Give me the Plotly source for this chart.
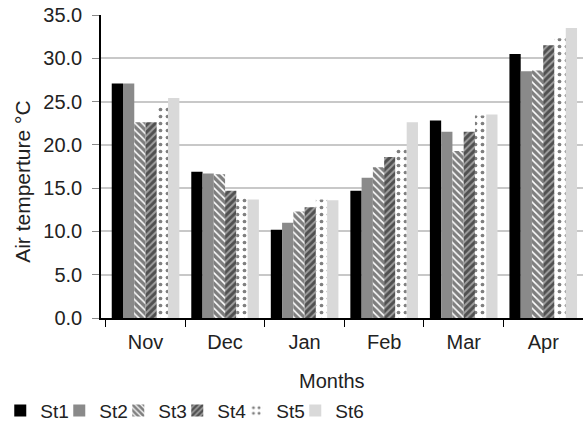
import plotly.graph_objects as go

# Monthly mean air temperature (°C) at six stations
months = ["Nov", "Dec", "Jan", "Feb", "Mar", "Apr"]
st1 = [27.1, 16.9, 10.2, 14.7, 22.8, 30.5]
st2 = [27.1, 16.7, 11.0, 16.2, 21.5, 28.5]
st3 = [22.6, 16.6, 12.3, 17.4, 19.3, 28.6]
st4 = [22.6, 14.7, 12.8, 18.6, 21.5, 31.5]
st5 = [24.6, 13.9, 13.7, 19.7, 23.4, 32.3]
st6 = [25.4, 13.7, 13.6, 22.6, 23.5, 33.5]

series = [
    ("St1", st1, dict(color="#000000")),
    ("St2", st2, dict(color="#8a8a8a")),
    ("St3", st3, dict(color="#ffffff",
                      pattern=dict(shape="\\", fgcolor="#000000", bgcolor="#ffffff",
                                   size=5, solidity=0.68))),
    ("St4", st4, dict(color="#ffffff",
                      pattern=dict(shape="/", fgcolor="#000000", bgcolor="#a0a0a0",
                                   size=5, solidity=0.6))),
    ("St5", st5, dict(color="#ffffff",
                      pattern=dict(shape=".", fgcolor="#000000", bgcolor="#ffffff",
                                   size=7, solidity=0.22))),
    ("St6", st6, dict(color="#d9d9d9")),
]

fig = go.Figure()
for name, vals, marker in series:
    fig.add_trace(go.Bar(x=months, y=vals, name=name,
                         marker=dict(line=dict(width=0), **marker)))

# blank spacer entry (a scatter, so it takes no bar slot) giving the compact
# legend row room for its last label
fig.add_trace(go.Scatter(x=[None], y=[None], name=" ", mode="markers",
                         showlegend=True,
                         marker=dict(color="rgba(0,0,0,0)", size=1,
                                     line=dict(width=0)),
                         hoverinfo="skip"))

family = "Liberation Sans, Arial, sans-serif"
ink = "#222222"
tick_font = dict(family=family, size=20, color=ink)

fig.update_layout(
    width=583, height=435,
    margin=dict(l=101, r=0, t=15, b=117),
    paper_bgcolor="white", plot_bgcolor="white",
    font=dict(family=family, size=19, color=ink),
    barmode="group", bargap=0.15, bargroupgap=0,
    showlegend=True,
    legend=dict(orientation="h", x=-0.209, xanchor="left", y=-0.243, yanchor="top",
                font=dict(family=family, size=19, color=ink),
                itemwidth=30, entrywidth=14, entrywidthmode="pixels",
                traceorder="normal"),
    xaxis=dict(
        type="category", range=[-0.56, 5.5],
        showline=True, linecolor="#000000", linewidth=1.5,
        ticks="outside", ticklen=7, tickcolor="#000000", tickson="boundaries",
        showgrid=False, tickfont=tick_font, ticklabelstandoff=5,
    ),
    yaxis=dict(
        range=[0, 35], dtick=5, tickformat=".1f",
        showline=True, linecolor="#000000", linewidth=1.5,
        ticks="outside", ticklen=7, tickcolor="#888888",
        showgrid=True, gridcolor="#c8c8c8", gridwidth=1.5,
        zeroline=False, tickfont=tick_font, ticklabelstandoff=6,
    ),
    annotations=[
        dict(text="Air temperture °C", textangle=-90, showarrow=False,
             xref="paper", yref="paper", x=-0.162, y=0.449,
             xanchor="center", yanchor="middle",
             font=dict(family=family, size=21, color=ink)),
        dict(text="Months", showarrow=False,
             xref="paper", yref="paper", x=0.479, y=-0.208,
             xanchor="center", yanchor="middle",
             font=dict(family=family, size=20, color=ink)),
    ],
)

fig.write_html("out.html")
